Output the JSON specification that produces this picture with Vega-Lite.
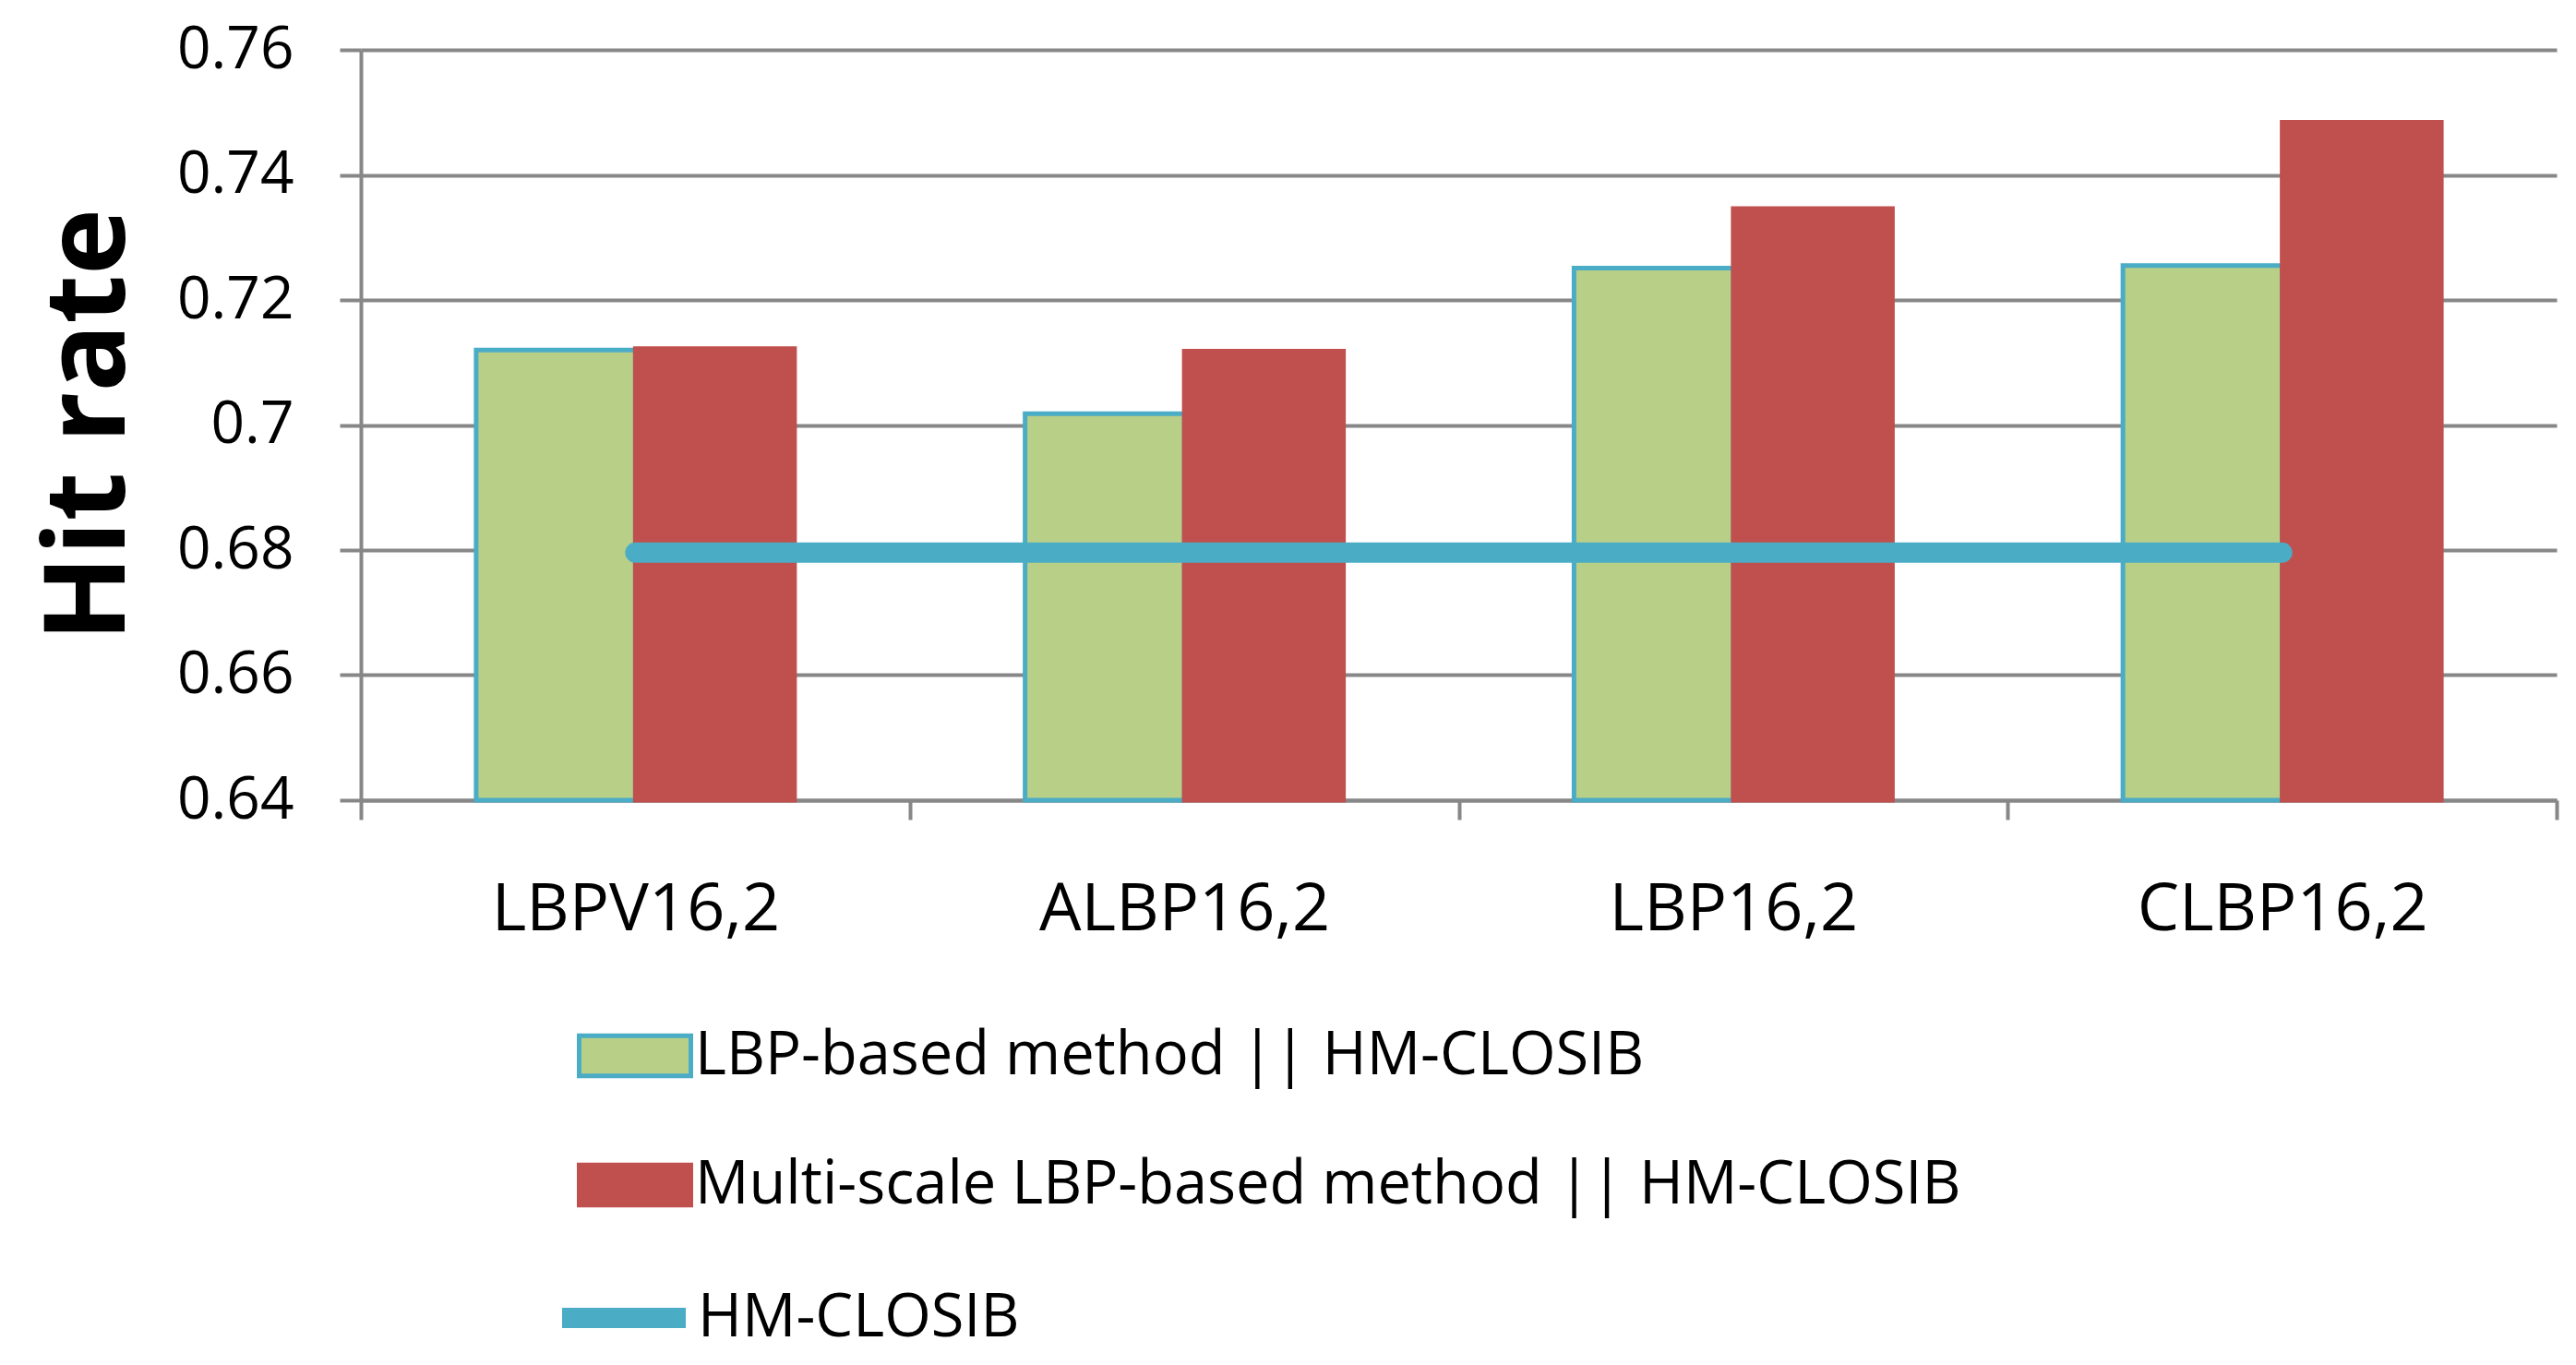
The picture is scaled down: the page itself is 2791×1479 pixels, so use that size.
{
  "$schema": "https://vega.github.io/schema/vega-lite/v6.json",
  "width": 2379,
  "height": 813,
  "autosize": {"type": "none"},
  "padding": {"left": 391, "top": 54, "right": 21, "bottom": 612},
  "background": "white",
  "config": {"view": {"stroke": null}, "font": "Open Sans"},
  "datasets": {
    "bars": [
      {"method": "LBPV16,2", "series": "LBP-based method || HM-CLOSIB", "value": 0.712},
      {"method": "LBPV16,2", "series": "Multi-scale LBP-based method || HM-CLOSIB", "value": 0.7122},
      {"method": "ALBP16,2", "series": "LBP-based method || HM-CLOSIB", "value": 0.7018},
      {"method": "ALBP16,2", "series": "Multi-scale LBP-based method || HM-CLOSIB", "value": 0.7118},
      {"method": "LBP16,2", "series": "LBP-based method || HM-CLOSIB", "value": 0.7251},
      {"method": "LBP16,2", "series": "Multi-scale LBP-based method || HM-CLOSIB", "value": 0.7346},
      {"method": "CLBP16,2", "series": "LBP-based method || HM-CLOSIB", "value": 0.7255},
      {"method": "CLBP16,2", "series": "Multi-scale LBP-based method || HM-CLOSIB", "value": 0.7484}
    ],
    "line": [
      {"method": "LBPV16,2", "series": "HM-CLOSIB", "value": 0.6796},
      {"method": "ALBP16,2", "series": "HM-CLOSIB", "value": 0.6796},
      {"method": "LBP16,2", "series": "HM-CLOSIB", "value": 0.6796},
      {"method": "CLBP16,2", "series": "HM-CLOSIB", "value": 0.6796}
    ]
  },
  "layer": [
    {
      "data": {"name": "bars"},
      "mark": {"type": "bar", "strokeWidth": 5},
      "encoding": {
        "x": {
          "field": "method",
          "type": "nominal",
          "sort": ["LBPV16,2", "ALBP16,2", "LBP16,2", "CLBP16,2"],
          "scale": {"paddingInner": 0, "paddingOuter": 0},
          "axis": {
            "title": null,
            "labelAngle": 0,
            "labelFont": "Open Sans",
            "labelFontSize": 72,
            "labelColor": "#000000",
            "labelBaseline": "top",
            "labelPadding": 62,
            "labelLimit": 2000,
            "tickBand": "extent",
            "tickSize": 21,
            "tickWidth": 4,
            "tickColor": "#878787",
            "domainColor": "#878787",
            "domainWidth": 4,
            "grid": false
          }
        },
        "xOffset": {
          "field": "series",
          "type": "nominal",
          "sort": ["LBP-based method || HM-CLOSIB", "Multi-scale LBP-based method || HM-CLOSIB"],
          "scale": {"paddingInner": 0, "paddingOuter": 0.724}
        },
        "y": {
          "field": "value",
          "type": "quantitative",
          "scale": {"domain": [0.64, 0.76], "nice": false, "zero": false},
          "axis": {
            "title": "Hit rate",
            "titleFont": "Open Sans",
            "titleFontSize": 122,
            "titleFontWeight": "bold",
            "titleColor": "#000000",
            "titleX": -257,
            "titleY": 406,
            "titleBaseline": "alphabetic",
            "values": [0.64, 0.66, 0.68, 0.7, 0.72, 0.74, 0.76],
            "format": "~g",
            "labelFont": "Open Sans",
            "labelFontSize": 64,
            "labelColor": "#000000",
            "labelPadding": 50,
            "tickSize": 23,
            "tickWidth": 4,
            "tickColor": "#878787",
            "domainColor": "#878787",
            "domainWidth": 4,
            "grid": true,
            "gridColor": "#878787",
            "gridWidth": 4
          }
        },
        "y2": {"datum": 0.64},
        "fill": {
          "field": "series",
          "type": "nominal",
          "scale": {
            "domain": ["LBP-based method || HM-CLOSIB", "Multi-scale LBP-based method || HM-CLOSIB"],
            "range": ["#B8CF88", "#C0504D"]
          },
          "legend": {
            "orient": "none",
            "legendX": 234,
            "legendY": 1027,
            "title": null,
            "padding": 0,
            "symbolType": "M-1,-0.36L1,-0.36L1,0.36L-1,0.36Z",
            "symbolSize": 14641,
            "symbolStrokeWidth": 5,
            "labelFont": "Open Sans",
            "labelFontSize": 65,
            "labelColor": "#000000",
            "labelOffset": 2,
            "labelLimit": 2000,
            "rowPadding": 44
          }
        },
        "stroke": {
          "field": "series",
          "type": "nominal",
          "scale": {
            "domain": ["LBP-based method || HM-CLOSIB", "Multi-scale LBP-based method || HM-CLOSIB"],
            "range": ["#4BACC6", "#C0504D"]
          },
          "legend": {
            "orient": "none",
            "legendX": 234,
            "legendY": 1027,
            "title": null,
            "padding": 0,
            "symbolType": "M-1,-0.36L1,-0.36L1,0.36L-1,0.36Z",
            "symbolSize": 14641,
            "symbolStrokeWidth": 5,
            "labelFont": "Open Sans",
            "labelFontSize": 65,
            "labelColor": "#000000",
            "labelOffset": 2,
            "labelLimit": 2000,
            "rowPadding": 44
          }
        }
      }
    },
    {
      "data": {"name": "line"},
      "mark": {"type": "line", "strokeWidth": 22, "strokeCap": "round"},
      "encoding": {
        "x": {"field": "method", "type": "nominal", "sort": ["LBPV16,2", "ALBP16,2", "LBP16,2", "CLBP16,2"]},
        "y": {"field": "value", "type": "quantitative"},
        "color": {
          "field": "series",
          "type": "nominal",
          "scale": {"domain": ["HM-CLOSIB"], "range": ["#4BACC6"]},
          "legend": {
            "orient": "none",
            "legendX": 207,
            "legendY": 1296,
            "title": null,
            "padding": 0,
            "symbolType": "stroke",
            "symbolSize": 17956,
            "symbolStrokeWidth": 22,
            "labelFont": "Open Sans",
            "labelFontSize": 65,
            "labelColor": "#000000",
            "labelOffset": 2,
            "labelLimit": 2000
          }
        }
      }
    }
  ]
}
